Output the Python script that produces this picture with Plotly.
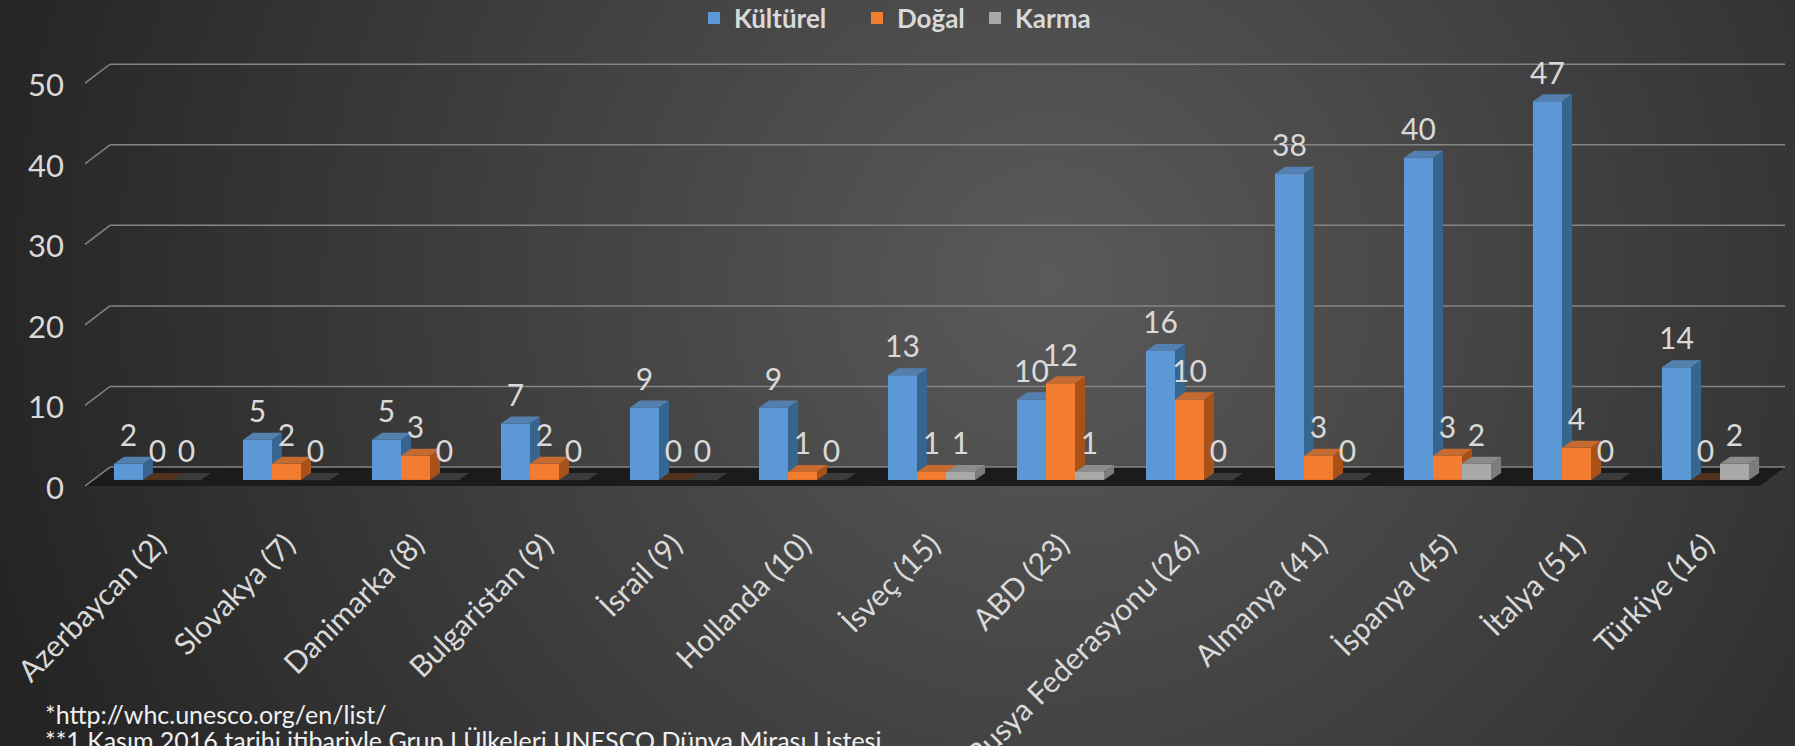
import base64
import plotly.graph_objects as go

# ---------------- data ----------------
categories = ["Azerbaycan (2)", "Slovakya (7)", "Danimarka (8)", "Bulgaristan (9)",
              "İsrail (9)", "Hollanda (10)", "İsveç (15)", "ABD (23)",
              "Rusya Federasyonu (26)", "Almanya (41)", "İspanya (45)",
              "İtalya (51)", "Türkiye (16)"]
kulturel = [2, 5, 5, 7, 9, 9, 13, 10, 16, 38, 40, 47, 14]
dogal = [0, 2, 3, 2, 0, 1, 1, 12, 10, 3, 3, 4, 0]
karma = [0, 0, 0, 0, 0, 0, 1, 1, 0, 0, 2, 0, 2]
series_names = ["Kültürel", "Doğal", "Karma"]
y_ticks = [0, 10, 20, 30, 40, 50]
footnotes = ["*http://whc.unesco.org/en/list/",
             "**1 Kasım 2016 tarihi itibariyle Grup I Ülkeleri UNESCO Dünya Mirası Listesi"]

# ---------------- style ----------------
FONT = "Lato"
TXT = "#d9d9d9"
front_cols = ["#5b98d5", "#f27c30", "#a9a9a9"]
side_cols = ["#386590", "#a8521a", "#7c7c7c"]
top_cols = ["#5480b0", "#c56a30", "#8c8c8c"]
zero_cols = ["rgba(84,128,176,0.35)", "rgba(150,80,30,0.45)", "rgba(120,120,120,0.35)"]
W = 0.225          # bar width (category units)
DX = 0.078         # depth offset x (category units)
DY = 0.87          # depth offset y (value units)
LABEL_PAD = 0.4
offsets = [-W, 0.0, W]
GRID_OFF = 1.6     # back wall offset of gridlines (value units)
FRONT_OFF = -0.75  # front floor edge (value units)
legend_px = [694, 857, 975]   # left edge (px) of each legend entry
PX_L, PX_R, PX_T, PX_B = 93, 25, 57, 258
FIG_W, FIG_H = 1795, 746
plot_w = FIG_W - PX_L - PX_R
plot_h = FIG_H - PX_T - PX_B

def px2paperx(px):
    return (px - PX_L) / plot_w

def px2papery(py):
    return (FIG_H - PX_B - py) / plot_h

# background radial gradient (svg data uri)
svg = ('<svg xmlns="http://www.w3.org/2000/svg" width="1795" height="746" '
       'viewBox="0 0 1795 746" preserveAspectRatio="none"><defs>'
       '<radialGradient id="g" gradientUnits="userSpaceOnUse" cx="1050" cy="280" r="1100">'
       '<stop offset="0" stop-color="#5a5a5a"/><stop offset="1" stop-color="#242424"/>'
       '</radialGradient></defs><rect width="1795" height="746" fill="url(#g)"/></svg>')
bg_uri = "data:image/svg+xml;base64," + base64.b64encode(svg.encode()).decode()

fig = go.Figure()
all_series = [kulturel, dogal, karma]
n = len(categories)
legend_ids = ["legend", "legend2", "legend3"]

for s, vals in enumerate(all_series):
    xa = "x" if s == 0 else f"x{s+1}"
    ya = "y" if s == 0 else f"y{s+1}"
    xs = [i + offsets[s] for i in range(n)]
    fig.add_trace(go.Bar(x=xs, y=vals, width=W, name=series_names[s],
                         marker=dict(color=front_cols[s], line=dict(width=0)),
                         legend=legend_ids[s], showlegend=True,
                         xaxis=xa, yaxis=ya, hoverinfo="skip"))
    sx, sy, tx, ty, zx, zy = [], [], [], [], [], []
    for xc, v in zip(xs, vals):
        x0, x1 = xc - W / 2, xc + W / 2
        if v > 0:
            sx += [x1, x1 + DX, x1 + DX, x1, x1, None]
            sy += [0, DY, v + DY, v, 0, None]
            tx += [x0, x0 + DX, x1 + DX, x1, x0, None]
            ty += [v, v + DY, v + DY, v, v, None]
        else:
            zx += [x0, x0 + DX, x1 + DX, x1, x0, None]
            zy += [0, DY, DY, 0, 0, None]
    for px_, py_, col in [(sx, sy, side_cols[s]), (tx, ty, top_cols[s]), (zx, zy, zero_cols[s])]:
        if px_:
            fig.add_trace(go.Scatter(x=px_, y=py_, mode="lines", fill="toself",
                                     fillcolor=col, line=dict(width=0, color=col),
                                     showlegend=False, hoverinfo="skip",
                                     xaxis=xa, yaxis=ya))

# data labels on top-most overlay
lx, ly, lt = [], [], []
for s, vals in enumerate(all_series):
    for i, v in enumerate(vals):
        lx.append(i + offsets[s])
        ly.append(v + DY + LABEL_PAD)
        lt.append(str(v))
fig.add_trace(go.Scatter(x=lx, y=ly, text=lt, mode="text", textposition="top center",
                         textfont=dict(family=FONT, size=30, color=TXT),
                         showlegend=False, hoverinfo="skip", cliponaxis=False,
                         xaxis="x3", yaxis="y3"))

# floor, gridlines and wall connectors
shapes = []
xl_f, xl_b, xr_b, xr_f = px2paperx(85), px2paperx(110), px2paperx(1785), px2paperx(1760)
shapes.append(dict(type="path", xref="paper", yref="y", layer="below",
                   path=f"M{xl_f},{FRONT_OFF} L{xl_b},{GRID_OFF} L{xr_b},{GRID_OFF} L{xr_f},{FRONT_OFF} Z",
                   fillcolor="#1b1b1b", line=dict(width=0)))
for t in y_ticks:
    shapes.append(dict(type="line", xref="paper", yref="y", layer="below",
                       x0=xl_b, x1=xr_b, y0=t + GRID_OFF, y1=t + GRID_OFF,
                       line=dict(color="#858585", width=1.5)))
    shapes.append(dict(type="line", xref="paper", yref="y", layer="below",
                       x0=xl_f, x1=xl_b, y0=t + FRONT_OFF, y1=t + GRID_OFF,
                       line=dict(color="#858585", width=1.5)))

annotations = []
for k, txt in enumerate(footnotes):
    annotations.append(dict(text=txt, xref="paper", yref="paper",
                            x=px2paperx(43), y=px2papery(714 + 26 * k),
                            xanchor="left", yanchor="middle", showarrow=False,
                            font=dict(family=FONT, size=25, color="#f0f0f0")))

legend_style = dict(orientation="h", xanchor="left", y=px2papery(18), yanchor="middle",
                    font=dict(family=FONT, size=26, color=TXT, weight="bold"),
                    itemwidth=30, bgcolor="rgba(0,0,0,0)", itemclick=False)
legends = {lid: dict(legend_style, x=px2paperx(px)) for lid, px in zip(legend_ids, legend_px)}

xrange = [-0.5, n - 0.5]
yrange = [-1, 52.5]
fig.update_layout(
    width=FIG_W, height=FIG_H, autosize=False,
    margin=dict(l=PX_L, r=PX_R, t=PX_T, b=PX_B, autoexpand=False),
    paper_bgcolor="#3a3a3a", plot_bgcolor="rgba(0,0,0,0)",
    barmode="overlay",
    font=dict(family=FONT, color=TXT),
    images=[dict(source=bg_uri, xref="paper", yref="paper",
                 x=px2paperx(0), y=px2papery(0), sizex=FIG_W / plot_w, sizey=FIG_H / plot_h,
                 xanchor="left", yanchor="top", sizing="stretch", layer="below")],
    xaxis=dict(range=xrange, tickmode="array", tickvals=list(range(n)), ticktext=categories,
               tickangle=-45, showgrid=False, zeroline=False, showline=False, ticks="",
               automargin=False,
               tickfont=dict(family=FONT, size=30, color=TXT), ticklabelstandoff=32),
    yaxis=dict(range=yrange, tickmode="array", tickvals=y_ticks, showgrid=False,
               zeroline=False, showline=False, ticks="", ticklabelshift=8,
               automargin=False,
               ticklabelstandoff=28, tickfont=dict(family=FONT, size=31, color=TXT)),
    xaxis2=dict(overlaying="x", matches="x", visible=False, anchor="y2"),
    yaxis2=dict(overlaying="y", matches="y", visible=False, anchor="x2"),
    xaxis3=dict(overlaying="x", matches="x", visible=False, anchor="y3"),
    yaxis3=dict(overlaying="y", matches="y", visible=False, anchor="x3"),
    shapes=shapes, annotations=annotations,
    **legends,
)

fig.write_html("out.html", config={"displayModeBar": False},
               post_script="document.body.style.margin='0';document.body.style.overflow='hidden';")
